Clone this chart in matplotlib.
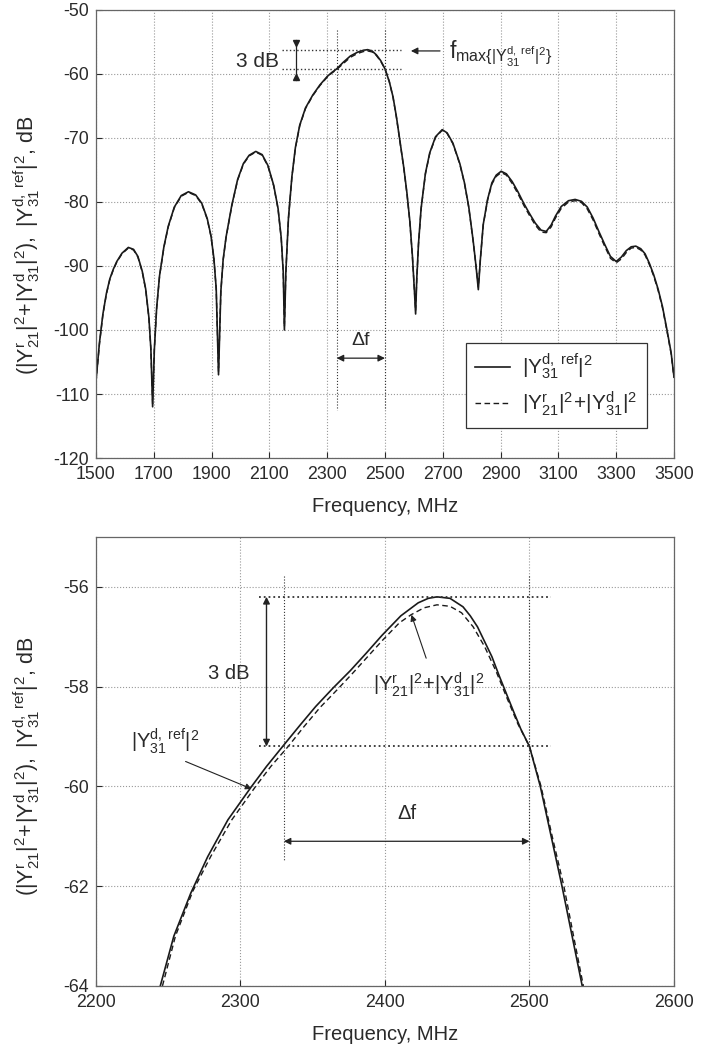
import matplotlib
matplotlib.use("Agg")
import matplotlib.pyplot as plt

plt.rcParams["font.family"] = ["Liberation Sans", "DejaVu Sans"]
plt.rcParams["mathtext.fontset"] = "custom"
plt.rcParams["mathtext.rm"] = "Liberation Sans"
plt.rcParams["mathtext.it"] = "Liberation Sans"
plt.rcParams["mathtext.bf"] = "Liberation Sans:bold"
plt.rcParams["mathtext.default"] = "regular"
plt.rcParams["axes.unicode_minus"] = False

# wide band response, MHz / dB
freq_wide = [1500, 1512, 1524, 1536, 1548, 1560, 1572, 1590, 1612, 1630, 1645, 1660,
             1672, 1683, 1690, 1696, 1702, 1710, 1720, 1735, 1750, 1771, 1795, 1820,
             1845, 1866, 1885, 1898, 1908, 1916, 1924, 1932, 1940, 1950, 1970, 1990,
             2010, 2030, 2053, 2075, 2095, 2115, 2130, 2141, 2148, 2152, 2157, 2166,
             2178, 2190, 2205, 2225, 2250, 2275, 2300, 2315, 2333, 2355, 2380, 2405,
             2425, 2440, 2455, 2470, 2485, 2500, 2515, 2528, 2540, 2552, 2565, 2576,
             2586, 2595, 2602, 2606, 2610, 2616, 2625, 2640, 2655, 2675, 2698, 2715,
             2735, 2759, 2775, 2790, 2805, 2815, 2823, 2830, 2840, 2855, 2870, 2885,
             2902, 2920, 2940, 2960, 2980, 3000, 3020, 3040, 3058, 3075, 3090, 3110,
             3135, 3158, 3180, 3200, 3220, 3240, 3260, 3280, 3300, 3318, 3335, 3352,
             3368, 3385, 3400, 3415, 3430, 3445, 3460, 3475, 3490, 3500]
ref_wide = [-108.0, -102.0, -97.5, -94.3, -92.0, -90.5, -89.3, -88.0, -87.1, -87.4, -88.5, -90.8,
            -93.6, -98.0, -103.0, -112.0, -103.0, -96.5, -91.5, -87.0, -83.8, -80.8, -79.0, -78.4,
            -78.9, -80.2, -82.6, -85.3, -88.8, -93.5, -107.0, -94.0, -89.0, -85.5, -80.5, -76.5,
            -74.0, -72.7, -72.1, -72.6, -74.3, -77.4, -81.0, -85.6, -91.0, -100.0, -91.0, -82.5,
            -76.0, -71.5, -68.0, -65.3, -63.3, -61.7, -60.4, -59.8, -59.2, -58.2, -57.2, -56.6,
            -56.3, -56.2, -56.4, -57.0, -57.9, -59.2, -61.2, -63.6, -66.8, -70.5, -74.6, -78.6,
            -83.0, -88.5, -94.0, -97.5, -92.0, -86.5, -81.0, -75.5, -72.3, -69.8, -68.7, -69.2,
            -70.8, -74.0, -77.0, -80.8, -86.0, -90.0, -93.7, -89.0, -83.5, -79.6, -77.0, -75.8,
            -75.2, -75.6, -76.8, -78.4, -80.2, -81.8, -83.3, -84.4, -84.6, -83.6, -82.2, -80.7,
            -79.8, -79.6, -79.9, -80.8, -82.5, -84.6, -86.6, -88.5, -89.3, -88.6, -87.6, -87.0,
            -86.9, -87.3, -88.1, -89.6, -91.4, -93.6, -96.3, -99.8, -103.5, -107.3]
sum_wide = [-108.2, -102.2, -97.6, -94.4, -92.1, -90.6, -89.4, -88.1, -87.2, -87.5, -88.6, -90.9,
            -93.7, -98.1, -103.0, -111.5, -103.0, -96.6, -91.6, -87.1, -83.9, -80.9, -79.1, -78.5,
            -79.0, -80.3, -82.7, -85.4, -88.9, -93.6, -106.5, -94.1, -89.1, -85.6, -80.6, -76.6,
            -74.1, -72.8, -72.2, -72.7, -74.4, -77.5, -81.1, -85.7, -91.0, -99.5, -91.0, -82.6,
            -76.1, -71.6, -68.1, -65.4, -63.4, -61.8, -60.5, -59.9, -59.3, -58.4, -57.4, -56.8,
            -56.5, -56.4, -56.55, -57.1, -58.0, -59.2, -61.2, -63.7, -66.9, -70.6, -74.7, -78.7,
            -83.1, -88.6, -94.0, -97.0, -92.0, -86.6, -81.1, -75.6, -72.4, -69.9, -68.8, -69.3,
            -70.9, -74.1, -77.1, -80.9, -86.1, -90.0, -93.3, -89.0, -83.6, -79.7, -77.2, -76.0,
            -75.4, -75.8, -77.1, -78.7, -80.5, -82.1, -83.6, -84.7, -84.8, -83.9, -82.5, -81.0,
            -80.0, -79.8, -80.1, -81.1, -82.8, -84.9, -86.9, -88.8, -89.5, -88.9, -87.9, -87.2,
            -87.1, -87.5, -88.3, -89.8, -91.6, -93.8, -96.5, -100.0, -103.7, -107.5]

# zoom on the passband
freq_ref_zoom = [2244.5, 2253.9, 2265.6, 2277.3, 2291.3, 2307.7, 2318, 2330, 2341, 2352,
                 2364, 2376, 2387, 2398, 2411, 2423, 2430, 2436, 2445, 2454,
                 2459, 2464, 2469, 2474, 2479, 2484, 2489, 2494, 2500, 2507.5,
                 2515, 2522.5, 2529.5, 2536.5]
ref_zoom = [-64.0, -63.0, -62.14, -61.41, -60.67, -60.0, -59.6, -59.17, -58.78, -58.4,
            -58.03, -57.68, -57.33, -56.97, -56.58, -56.32, -56.23, -56.2, -56.23, -56.4,
            -56.58, -56.8, -57.1, -57.4, -57.78, -58.14, -58.5, -58.85, -59.2, -60.0,
            -61.0, -62.0, -63.0, -64.0]
freq_sum_zoom = [2246, 2255, 2267, 2279.5, 2294, 2310.5, 2321, 2333, 2344, 2355,
                 2367, 2378, 2388, 2398, 2410, 2418, 2427, 2436, 2445, 2453,
                 2461, 2469, 2477, 2484, 2492, 2500, 2508, 2515.7, 2523.8, 2530.5,
                 2537.3]
sum_zoom = [-64.0, -63.0, -62.1, -61.4, -60.67, -60.0, -59.6, -59.2, -58.8, -58.42,
            -58.06, -57.72, -57.4, -57.08, -56.72, -56.56, -56.42, -56.36, -56.39, -56.52,
            -56.8, -57.2, -57.7, -58.2, -58.75, -59.2, -60.0, -61.0, -62.0, -63.0,
            -64.0]

f_low, f_high = 2333, 2500
peak_db, half_db = -56.2, -59.2

lbl_ref = r"$|Y^{d,\ ref}_{31}|^2$"
lbl_sum = r"$|Y^{r}_{21}|^2\!+\!|Y^{d}_{31}|^2$"
ylab = r"$(|Y^{r}_{21}|^{2}\!+\!|Y^{d}_{31}|^{2}),\ |Y^{d,\ ref}_{31}|^{2}$, dB"

txt = "#2a2a2a"
line_c = "#1a1a1a"
fs = 12.8

fig = plt.figure(figsize=(7.12, 10.5), dpi=100)
ax1 = fig.add_axes([0.1348, 0.5638, 0.8118, 0.4267])
ax2 = fig.add_axes([0.1348, 0.061, 0.8118, 0.4276])


def style(ax):
    ax.grid(True, linestyle=":", color="#999999", linewidth=0.8)
    ax.tick_params(direction="in", labelsize=fs, colors=txt, length=4, pad=5)
    ax.tick_params(axis="x", pad=6)
    for s in ax.spines.values():
        s.set_color("#666666")
        s.set_linewidth(0.9)


# top panel
ax1.plot(freq_wide, ref_wide, color=line_c, lw=1.2, label=lbl_ref)
ax1.plot(freq_wide, sum_wide, color=line_c, lw=1.0, dashes=(4, 2.5), label=lbl_sum)
ax1.set_xlim(1500, 3500)
ax1.set_ylim(-120, -50)
ax1.set_xticks(range(1500, 3501, 200))
ax1.set_yticks(range(-120, -49, 10))
style(ax1)
ax1.set_xlabel("Frequency, MHz", fontsize=14.5, color=txt, labelpad=10)
ax1.set_ylabel(ylab, fontsize=15.5, color=txt)
ax1.yaxis.set_label_coords(-0.094, 0.475)

for f in (f_low, f_high):
    ax1.plot([f, f], [-53.1, -112.5], color="#333333", lw=0.8, ls=":")
for d in (peak_db, half_db):
    ax1.plot([2145, 2555], [d, d], color="#333333", lw=1.0, ls=":")
ax1.plot([2193, 2193], [-54.7, -60.9], color="#222222", lw=0.9)
ax1.plot([2193], [-55.1], marker="v", color="#222222", ms=5)
ax1.plot([2193], [-60.5], marker="^", color="#222222", ms=5)
ax1.text(2133, -58.0, "3 dB", fontsize=15, color=txt, ha="right", va="center")
ax1.annotate("", xy=(2580, -56.4), xytext=(2700, -56.4),
             arrowprops=dict(arrowstyle="-|>", color="#222222", lw=0.9, mutation_scale=10))
ax1.text(2722, -56.9, r"$f_{max\{|Y^{d,\ ref}_{31}|^2\}}$", fontsize=16.5,
         color=txt, ha="left", va="center")
ax1.annotate("", xy=(f_low, -104.4), xytext=(f_high, -104.4),
             arrowprops=dict(arrowstyle="<|-|>", color="#222222", lw=0.9, mutation_scale=10,
                             shrinkA=0, shrinkB=0))
ax1.text(2416, -101.6, "Δf", fontsize=14, color=txt, ha="center", va="center")

leg = ax1.legend(loc="lower right", bbox_to_anchor=(0.953, 0.068), borderaxespad=0,
                 fontsize=15, fancybox=False, edgecolor="#333333", framealpha=1,
                 handlelength=1.65, handletextpad=0.6, labelspacing=0.35, borderpad=0.45)
leg.get_frame().set_linewidth(0.9)
for t in leg.get_texts():
    t.set_color(txt)

# bottom panel
ax2.plot(freq_ref_zoom, ref_zoom, color=line_c, lw=1.2)
ax2.plot(freq_sum_zoom, sum_zoom, color=line_c, lw=1.0, dashes=(4, 2.5))
ax2.set_xlim(2200, 2600)
ax2.set_ylim(-64, -55)
ax2.set_xticks(range(2200, 2601, 100))
ax2.set_yticks(range(-64, -55, 2))
style(ax2)
ax2.set_xlabel("Frequency, MHz", fontsize=14.5, color=txt, labelpad=10)
ax2.set_ylabel(ylab, fontsize=15.5, color=txt)
ax2.yaxis.set_label_coords(-0.094, 0.49)

for f in (2330, 2500):
    ax2.plot([f, f], [-55.78, -61.5], color="#333333", lw=0.8, ls=":")
for d in (peak_db, half_db):
    ax2.plot([2313, 2515], [d, d], color="#333333", lw=1.3, ls=":")
ax2.annotate("", xy=(2318, peak_db), xytext=(2318, half_db),
             arrowprops=dict(arrowstyle="<|-|>", color="#222222", lw=1.0, mutation_scale=10,
                             shrinkA=0, shrinkB=0))
ax2.text(2292, -57.73, "3 dB", fontsize=14.5, color=txt, ha="center", va="center")
ax2.annotate("", xy=(2330, -61.1), xytext=(2500, -61.1),
             arrowprops=dict(arrowstyle="<|-|>", color="#222222", lw=0.9, mutation_scale=10,
                             shrinkA=0, shrinkB=0))
ax2.text(2415, -60.54, "Δf", fontsize=14.5, color=txt, ha="center", va="center")
ax2.text(2248, -59.1, lbl_ref, fontsize=14.5, color=txt, ha="center", va="center")
ax2.annotate("", xy=(2307.7, -60.05), xytext=(2262, -59.5),
             arrowprops=dict(arrowstyle="-|>", color="#222222", lw=0.8, mutation_scale=9,
                             shrinkA=0, shrinkB=0))
ax2.text(2430, -57.97, lbl_sum, fontsize=14.5, color=txt, ha="center", va="center")
ax2.annotate("", xy=(2418.3, -56.56), xytext=(2428.5, -57.43),
             arrowprops=dict(arrowstyle="-|>", color="#222222", lw=0.8, mutation_scale=9,
                             shrinkA=0, shrinkB=0))

fig.savefig("out.png", dpi=100)
